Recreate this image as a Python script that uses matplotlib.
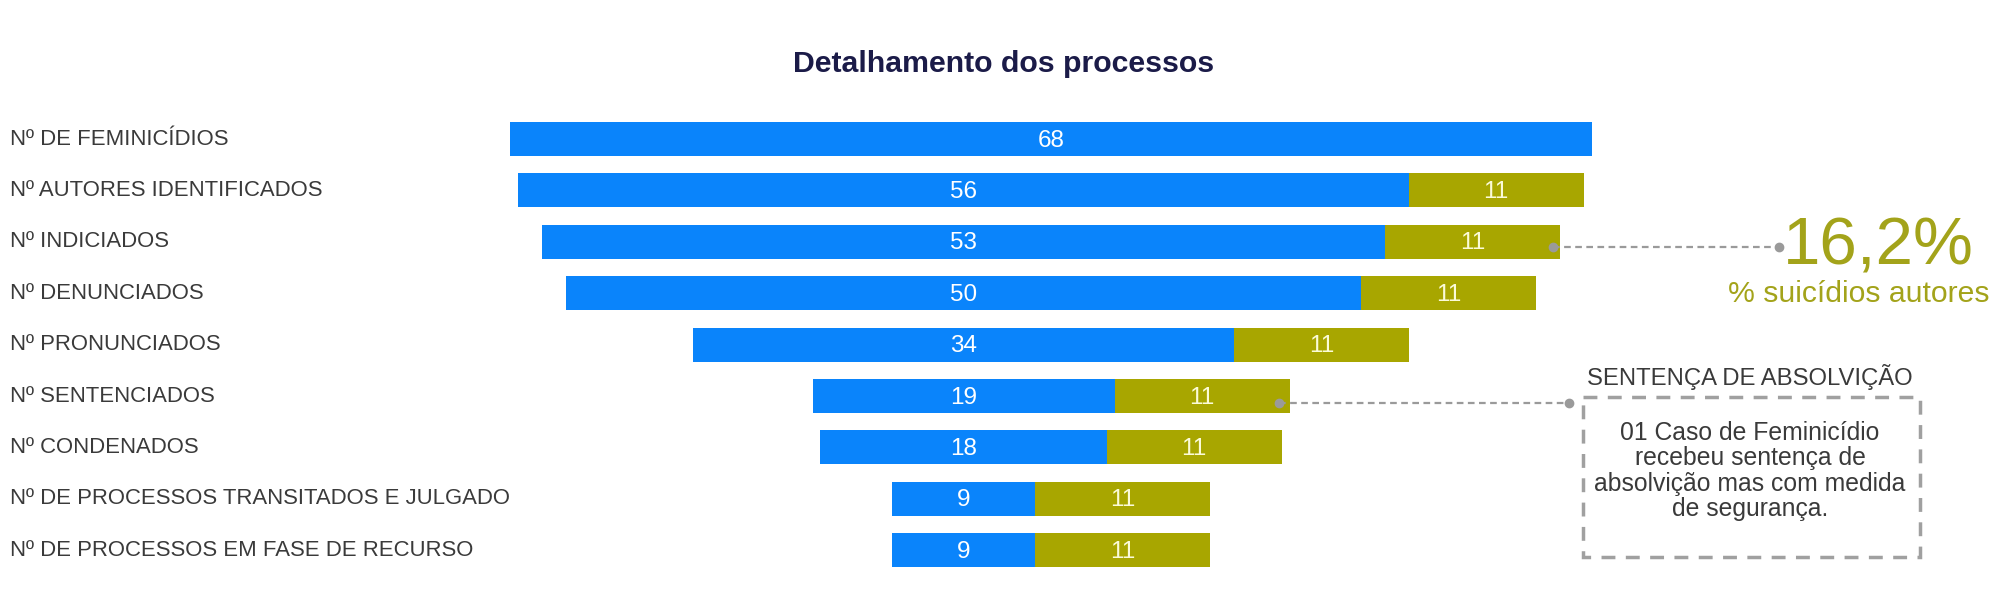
import matplotlib
matplotlib.use("Agg")
import matplotlib.pyplot as plt
from matplotlib.patches import Rectangle
import numpy as np

stages = [
    "Nº DE FEMINICÍDIOS",
    "Nº AUTORES IDENTIFICADOS",
    "Nº INDICIADOS",
    "Nº DENUNCIADOS",
    "Nº PRONUNCIADOS",
    "Nº SENTENCIADOS",
    "Nº CONDENADOS",
    "Nº DE PROCESSOS TRANSITADOS E JULGADO",
    "Nº DE PROCESSOS EM FASE DE RECURSO",
]
processos = [68, 56, 53, 50, 34, 19, 18, 9, 9]
suicidios = [0, 11, 11, 11, 11, 11, 11, 11, 11]

pct_suicidio = "16,2%"
pct_label = "% suicídios autores"
box_title = "SENTENÇA DE ABSOLVIÇÃO"
box_text = "01 Caso de Feminicídio\nrecebeu sentença de\nabsolvição mas com medida\nde segurança."

BLUE = "#0a84fb"
OLIVE = "#a8a600"
FONT = ["Liberation Sans", "DejaVu Sans"]

# pixel layout helpers (figure is 2000x592 px)
CX, SX = 1051, 15.9      # funnel centre and px per unit
Y0, SY = 139, 51.4       # first row centre and row spacing


def px_x(p):
    return (p - CX) / SX


def px_y(p):
    return (p - Y0) / SY


fig = plt.figure(figsize=(20, 5.92), dpi=100)
ax = fig.add_axes([0, 0, 1, 1])
ax.set_xlim(px_x(0), px_x(2000))
ax.set_ylim(px_y(592), px_y(0))
ax.axis("off")

blue = np.array(processos)
olive = np.array(suicidios)
total = blue + olive
left = -total / 2
y = np.arange(len(stages))

ax.barh(y, blue, left=left, height=0.66, color=BLUE)
ax.barh(y, olive, left=left + blue, height=0.66, color=OLIVE)

for i in range(len(stages)):
    ax.text(px_x(10), y[i], stages[i], ha="left", va="center",
            fontsize=15.9, color="#3a3a3a", family=FONT)
    ax.text(left[i] + blue[i] / 2, y[i] + 0.03, str(blue[i]), ha="center",
            va="center", fontsize=17.5, color="white", family=FONT)
    if olive[i] > 0:
        ax.text(left[i] + blue[i] + olive[i] / 2, y[i] + 0.03, str(olive[i]),
                ha="center", va="center", fontsize=17.5, color="#fbfbd8",
                family=FONT)

ax.text(px_x(1004), px_y(64), "Detalhamento dos processos", ha="center",
        va="center", fontsize=21.8, fontweight="bold", color="#1b1b48",
        family=FONT)

# suicide annotation, from the INDICIADOS bar
r = 2
x_start = total[r] / 2 - 0.45
x_end = px_x(1779)
ax.plot([x_start, x_end], [r + 0.1, r + 0.1], ls=(0, (3, 2)), lw=1.6,
        color="#9a9a9a")
ax.plot([x_start, x_end], [r + 0.1, r + 0.1], ls="none", marker="o",
        ms=6, color="#9a9a9a")
ax.text(px_x(1878), px_y(264), pct_suicidio, ha="center", va="baseline",
        fontsize=48.5, color="#a3a31a", family=FONT)
ax.text(px_x(1859), px_y(302), pct_label, ha="center", va="baseline",
        fontsize=21.7, color="#a3a31a", family=FONT)

# acquittal annotation, from the SENTENCIADOS bar
r = 5
x_start = px_x(1279)
x_end = px_x(1569)
ax.plot([x_start, x_end], [r + 0.13, r + 0.13], ls=(0, (3, 2)), lw=1.6,
        color="#9a9a9a")
ax.plot([x_start, x_end], [r + 0.13, r + 0.13], ls="none", marker="o",
        ms=6, color="#9a9a9a")

bx0, bx1, by0, by1 = 1583, 1920, 397, 557
ax.add_patch(Rectangle((px_x(bx0), px_y(by0)), (bx1 - bx0) / SX,
                       (by1 - by0) / SY, fill=False, edgecolor="#a0a0a0",
                       lw=2.5, ls=(0, (4, 3))))
ax.text(px_x(1750), px_y(377), box_title, ha="center", va="center",
        fontsize=17.2, color="#3a3a3a", family=FONT)
ax.text(px_x(1750), px_y(471), box_text, ha="center", va="center",
        multialignment="center", fontsize=17.8, linespacing=1.07,
        color="#3a3a3a", family=FONT)

fig.savefig("out.png", dpi=100, facecolor="white")
